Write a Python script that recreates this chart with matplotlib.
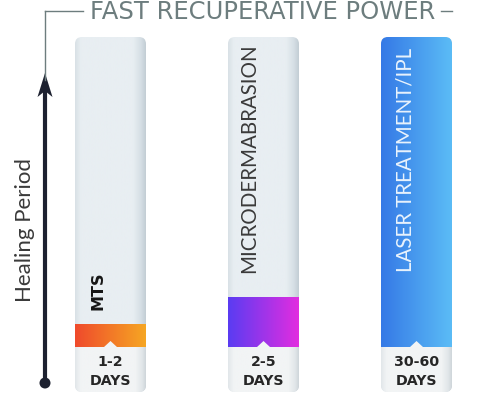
import matplotlib.pyplot as plt
import numpy as np
from matplotlib.patches import FancyBboxPatch, Polygon, Circle
from matplotlib.colors import LinearSegmentedColormap

treatments = ['MTS', 'MICRODERMABRASION', 'LASER TREATMENT/IPL']
days_low = [1, 2, 30]
days_high = [2, 5, 60]
# share of the column filled by the coloured band
fill = [0.071, 0.161, 1.0]
band_colors = [('#ef4a2c', '#f6a623'), ('#5a3cf2', '#e22de0'), ('#3579e6', '#5bbcf6')]
label_colors = ['#161616', '#3a3a3a', '#e9f3fd']

plt.rcParams['font.family'] = ['Lato', 'DejaVu Sans']

fig = plt.figure(figsize=(4.79, 3.96), dpi=100)
ax = fig.add_axes([0, 0, 1, 1])
ax.set_xlim(0, 479)
ax.set_ylim(396, 0)
ax.axis('off')

col_left = [75, 228, 381]
col_w = 71
col_top = 37
col_bot = 392
band_bot = 347
full_h = band_bot - col_top

gray = LinearSegmentedColormap.from_list('g', [(0, '#d9e1e6'), (0.08, '#e8eef2'), (0.82, '#e8eef2'),
                                               (0.93, '#d6dfe5'), (1, '#c3ced5')])
light = LinearSegmentedColormap.from_list('l', [(0, '#e2e7ea'), (0.08, '#f2f4f5'), (0.85, '#f2f4f5'),
                                                (0.95, '#e1e6e9'), (1, '#cfd6da')])
grad = np.linspace(0, 1, 200).reshape(1, -1)

for i, name in enumerate(treatments):
    x0 = col_left[i]
    box = FancyBboxPatch((x0, col_top), col_w, col_bot - col_top,
                         boxstyle='round,pad=0,rounding_size=7',
                         facecolor='none', edgecolor='none')
    ax.add_patch(box)
    im = ax.imshow(grad, cmap=gray, aspect='auto',
                   extent=(x0, x0 + col_w, col_bot, col_top), zorder=1)
    im.set_clip_path(box)
    # lighter bottom part under the band
    low = ax.imshow(grad, cmap=light, aspect='auto',
                    extent=(x0, x0 + col_w, col_bot, band_bot), zorder=1.5)
    low.set_clip_path(box)

    top = band_bot - fill[i] * full_h
    cm = LinearSegmentedColormap.from_list('b%d' % i, band_colors[i])
    b = ax.imshow(grad, cmap=cm, aspect='auto',
                  extent=(x0, x0 + col_w, band_bot, top), zorder=2)
    b.set_clip_path(box)

    cx = x0 + col_w / 2
    ax.add_patch(Polygon([(cx - 7, band_bot + 0.5), (cx, band_bot - 6), (cx + 7, band_bot + 0.5)],
                         closed=True, facecolor='#f2f4f5', edgecolor='none', zorder=3))

    ax.text(cx, 362, '%d-%d' % (days_low[i], days_high[i]), ha='center', va='center',
            fontsize=10.2, fontweight='bold', color='#262626', family='DejaVu Sans', zorder=4)
    ax.text(cx, 381, 'DAYS', ha='center', va='center',
            fontsize=10.2, fontweight='bold', color='#262626', family='DejaVu Sans', zorder=4)

tx = [98, 249, 406]
ty = [310, 273, 272]
ax.text(tx[0], ty[0], treatments[0], rotation=90, ha='center', va='bottom',
        fontsize=11.5, fontweight='bold', color=label_colors[0], family='DejaVu Sans', zorder=4)
for i in (1, 2):
    ax.text(tx[i], ty[i], treatments[i], rotation=90, ha='center', va='bottom',
            fontsize=14.8, color=label_colors[i], zorder=4)

# title and bracket line
ax.text(263, 12, 'FAST RECUPERATIVE POWER', ha='center', va='center',
        fontsize=17.5, color='#6d7d7e', family='DejaVu Sans')
ax.plot([45, 83], [11, 11], color='#6d7d7e', lw=1)
ax.plot([441, 452], [11, 11], color='#6d7d7e', lw=1)
ax.plot([45, 45], [11, 80], color='#6d7d7e', lw=1)

# healing period arrow
ax.plot([45, 45], [383, 88], color='#1d2130', lw=3, solid_capstyle='butt')
ax.add_patch(Polygon([(45, 73), (37.5, 97), (45, 91), (52.5, 97)], closed=True,
                     facecolor='#1d2130', edgecolor='none'))
ax.add_patch(Circle((45, 383), 5.5, facecolor='#1d2130', edgecolor='none'))
ax.text(25, 230, 'Healing Period', rotation=90, ha='center', va='center',
        fontsize=16, color='#3a3a3a')

fig.savefig('out.png', dpi=100)
